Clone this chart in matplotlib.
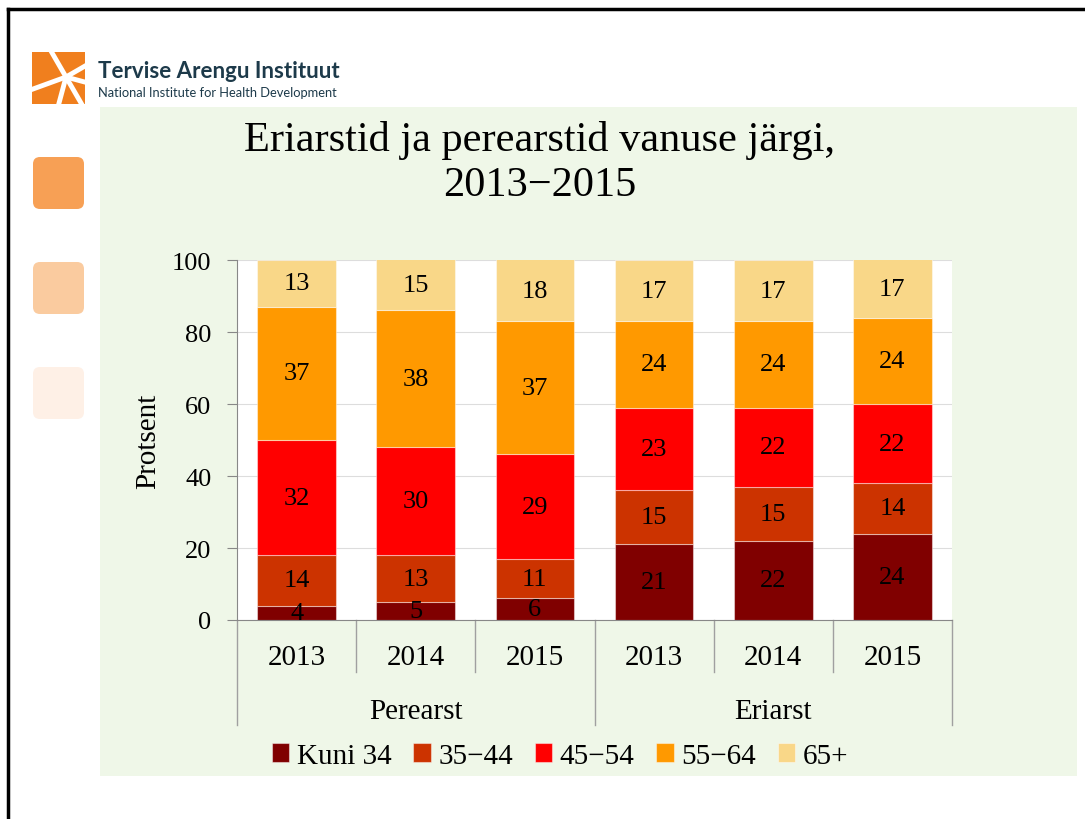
import numpy as np
import matplotlib.pyplot as plt
from matplotlib.patches import Rectangle, FancyBboxPatch

plt.rcParams['font.family'] = ['Liberation Serif', 'DejaVu Serif']

# Andmed
groups = ['Perearst', 'Eriarst']
years = ['2013', '2014', '2015']
age_groups = ['Kuni 34', '35\u221244', '45\u221254', '55\u221264', '65+']
kuni34 = [4, 5, 6, 21, 22, 24]
v35_44 = [14, 13, 11, 15, 15, 14]
v45_54 = [32, 30, 29, 23, 22, 22]
v55_64 = [37, 38, 37, 24, 24, 24]
v65 = [13, 15, 18, 17, 17, 17]
series = [kuni34, v35_44, v45_54, v55_64, v65]
colors = ['#800000', '#CC3300', '#FF0000', '#FF9900', '#F9D788']

W, H = 1085, 820
fig = plt.figure(figsize=(W / 100, H / 100), dpi=100)

# taust ja kaunistused pikslites
bg = fig.add_axes([0, 0, 1, 1])
bg.set_xlim(0, W)
bg.set_ylim(H, 0)
bg.axis('off')
bg.add_patch(Rectangle((100, 108), 977, 669, color='#EFF7E8', lw=0))
bg.plot([8, W], [10, 10], color='black', lw=2.5)
bg.plot([8, 8], [10, H], color='black', lw=2.5)

# logo
bg.add_patch(Rectangle((32, 53), 53, 52, color='#F07F1E', lw=0))
cx, cy = 66, 78
for ang in [200, 255, 300, 345, 30, 120]:
    a = np.deg2rad(ang)
    bg.plot([cx, cx + 45 * np.cos(a)], [cy, cy - 45 * np.sin(a)],
            color='white', lw=3.5, solid_capstyle='butt')
bg.add_patch(Rectangle((85, 45), 15, 70, color='white', lw=0))
bg.add_patch(Rectangle((25, 45), 7, 70, color='white', lw=0))
bg.add_patch(Rectangle((25, 105), 75, 3, color='white', lw=0))
bg.add_patch(Rectangle((25, 45), 75, 8, color='white', lw=0))
bg.text(98, 71, 'Tervise Arengu Instituut', family='Lato', weight='bold',
        fontsize=16, color='#1D3A4A', va='center', ha='left')
bg.text(98, 93, 'National Institute for Health Development', family='Lato',
        fontsize=9.3, color='#1D3A4A', va='center', ha='left')

for y0, c in [(158, '#F7A055'), (263, '#FACB9F'), (368, '#FEF0E6')]:
    bg.add_patch(FancyBboxPatch((33, y0), 51, 52,
                                boxstyle='round,pad=0,rounding_size=7',
                                color=c, lw=0))

# pealkiri
bg.text(540, 140, 'Eriarstid ja perearstid vanuse järgi,', fontsize=30.5,
        ha='center', va='center')
bg.text(540, 186, '2013\u22122015', fontsize=30.5, ha='center', va='center')

# graafik
ax = fig.add_axes([237 / W, (H - 621) / H, (952 - 237) / W, (621 - 261) / H])
x = np.arange(len(kuni34))
bottom = np.zeros(len(x))
for vals, c, name in zip(series, colors, age_groups):
    bars = ax.bar(x, vals, 0.66, bottom=bottom, color=c, label=name,
                  edgecolor='#FFFFFF70', linewidth=0.8, zorder=2)
    ax.bar_label(bars, labels=[str(v) for v in vals], label_type='center',
                 fontsize=19, clip_on=False, zorder=3)
    bottom += vals

ax.set_xlim(-0.5, len(x) - 0.5)
ax.set_ylim(0, 100)
ax.set_yticks(range(0, 101, 20))
ax.yaxis.grid(True, color='#DDDDDD', lw=0.8)
ax.set_axisbelow(True)
ax.set_xticks([])
ax.tick_params(axis='y', labelsize=19, length=7, color='#888888', pad=11.5)
for s in ['top', 'right']:
    ax.spines[s].set_visible(False)
for s in ['left', 'bottom']:
    ax.spines[s].set_color('#888888')
ax.set_ylabel('Protsent', fontsize=21, labelpad=8)

# mitmetasandiline x-telg
tr = ax.get_xaxis_transform()
for i in range(len(x) + 1):
    xb = i - 0.5
    ybot = -0.292 if i % 3 == 0 else -0.145
    ax.plot([xb, xb], [0, ybot], transform=tr, color='#A0A0A0', lw=1,
            clip_on=False)
for i in range(len(x)):
    ax.text(i, -0.102, years[i % 3], transform=tr, ha='center', va='center',
            fontsize=21)
for g, name in enumerate(groups):
    ax.text(3 * g + 1, -0.254, name, transform=tr, ha='center', va='center',
            fontsize=21)

fig.legend(loc='center', bbox_to_anchor=(560 / W, (H - 757) / H), ncol=5,
           frameon=False, fontsize=21, handlelength=0.6, handleheight=0.6,
           handletextpad=0.25, columnspacing=0.75)

fig.savefig('out.png', dpi=100)
